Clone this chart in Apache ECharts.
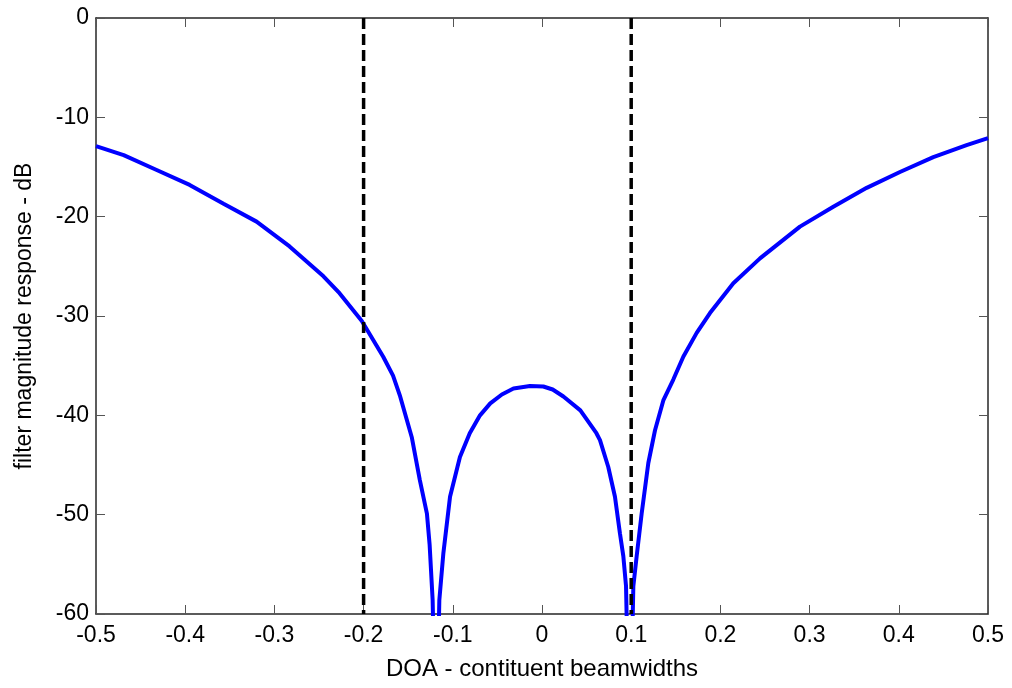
<!DOCTYPE html>
<html>
<head>
<meta charset="utf-8">
<title>Filter magnitude response</title>
<script src="https://cdn.jsdelivr.net/npm/echarts@6/dist/echarts.min.js"></script>
<style>
  html, body { margin: 0; padding: 0; background: #ffffff; }
  #chart { width: 1012px; height: 688px; }
</style>
</head>
<body>
<div id="chart"></div>
<script>
// Direction of arrival, in constituent beamwidths
const doa = [
  -0.5, -0.469, -0.432, -0.395, -0.357, -0.320, -0.283, -0.245, -0.227, -0.202,
  -0.178, -0.167, -0.159, -0.146, -0.137, -0.129, -0.126, -0.1226, -0.1188, -0.1151,
  -0.1106, -0.1031, -0.092, -0.081, -0.0695, -0.058, -0.045, -0.032, -0.0135, 0.0015,
  0.012, 0.024, 0.043, 0.061, 0.065, 0.0743, 0.0818, 0.0874, 0.0912, 0.0942,
  0.0983, 0.1024, 0.1061, 0.1117, 0.1192, 0.1267, 0.136, 0.1472, 0.1584, 0.1734,
  0.1883, 0.2145, 0.2444, 0.2892, 0.3266, 0.364, 0.4013, 0.4387, 0.476, 0.5
];

// Filter magnitude response at each DOA, dB
const responseDb = [
  -12.9, -13.8, -15.3, -16.8, -18.7, -20.5, -23.0, -26.0, -27.7, -30.5,
  -34.1, -36.0, -38.1, -42.2, -46.5, -49.9, -53.0, -58.6, -75.0, -58.6,
  -53.9, -48.2, -44.2, -41.8, -40.0, -38.8, -37.9, -37.3, -37.05, -37.1,
  -37.4, -38.1, -39.5, -41.8, -42.5, -45.2, -48.2, -51.9, -54.2, -57.2,
  -75.0, -57.2, -54.2, -49.9, -44.8, -41.5, -38.5, -36.4, -34.1, -31.7,
  -29.7, -26.7, -24.2, -21.0, -19.0, -17.1, -15.5, -14.0, -12.8, -12.1
];

// Vertical dashed reference lines (DOA positions)
const markerDoa = [-0.2, 0.1];

// Axis ranges and tick steps
const xRange = [-0.5, 0.5];
const xStep = 0.1;
const yRange = [-60, 0];
const yStep = 10;

const FONT = '"Liberation Sans", Arial, Helvetica, sans-serif';
const TEXT_SIZE = 23;
const AXIS_COLOR = '#262626';

function boxAxis(extra) {
  return Object.assign({
    type: 'value',
    axisLine: { show: true, onZero: false, lineStyle: { color: AXIS_COLOR, width: 1.5 } },
    axisTick: { show: true, inside: true, length: 9, lineStyle: { color: '#555555', width: 1 } },
    splitLine: { show: false }
  }, extra);
}

const curve = doa.map((x, i) => [x, responseDb[i]]);

const markerSeries = markerDoa.map((x) => ({
  type: 'line',
  xAxisIndex: 0,
  yAxisIndex: 0,
  data: [[x, yRange[1]], [x, yRange[0]]],
  symbol: 'none',
  silent: true,
  z: 3,
  lineStyle: { color: '#000000', width: 3.5, type: [11, 5] }
}));

const chart = echarts.init(document.getElementById('chart'), null, { renderer: 'canvas' });

chart.setOption({
  animation: false,
  backgroundColor: '#ffffff',
  grid: { left: 96, top: 18, right: 24, bottom: 74, containLabel: false },
  xAxis: [
    boxAxis({
      position: 'bottom',
      min: xRange[0], max: xRange[1], interval: xStep,
      name: 'DOA - contituent beamwidths',
      nameLocation: 'middle',
      nameGap: 43,
      nameTextStyle: { color: '#000000', fontSize: 24, fontFamily: FONT },
      axisLabel: {
        color: '#000000', fontSize: TEXT_SIZE, fontFamily: FONT, margin: 10,
        formatter: (v) => String(Math.round(v * 10) / 10)
      }
    }),
    boxAxis({
      position: 'top',
      min: xRange[0], max: xRange[1], interval: xStep,
      axisLabel: { show: false }
    })
  ],
  yAxis: [
    boxAxis({
      position: 'left',
      min: yRange[0], max: yRange[1], interval: yStep,
      name: 'filter magnitude response - dB',
      nameLocation: 'middle',
      nameGap: 60,
      nameRotate: 90,
      nameTextStyle: { color: '#000000', fontSize: TEXT_SIZE, fontFamily: FONT },
      axisLabel: { color: '#000000', fontSize: TEXT_SIZE, fontFamily: FONT, margin: 7 }
    }),
    boxAxis({
      position: 'right',
      min: yRange[0], max: yRange[1], interval: yStep,
      axisLabel: { show: false }
    })
  ],
  series: [
    {
      type: 'line',
      xAxisIndex: 0,
      yAxisIndex: 0,
      data: curve,
      symbol: 'none',
      smooth: false,
      clip: true,
      z: 2,
      lineStyle: { color: '#0000ff', width: 4 }
    }
  ].concat(markerSeries)
});
</script>
</body>
</html>
